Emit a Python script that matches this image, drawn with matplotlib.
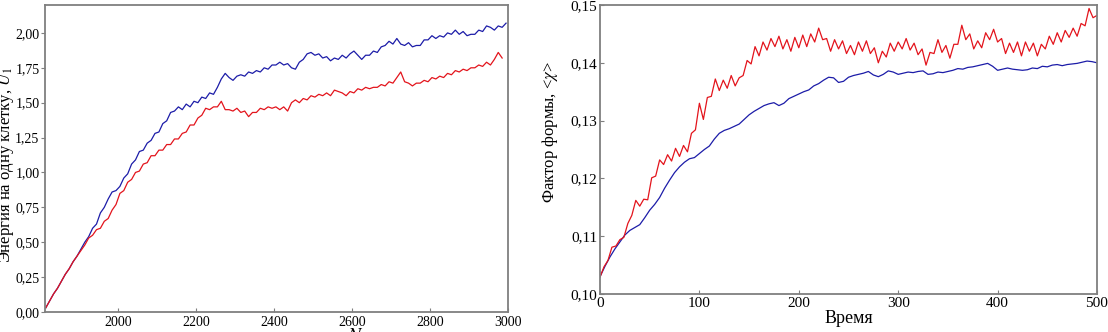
import matplotlib
matplotlib.use('Agg')
import matplotlib.pyplot as plt
from matplotlib.ticker import FuncFormatter, MultipleLocator

plt.rcParams['font.family'] = ['Liberation Serif', 'DejaVu Serif']
plt.rcParams['mathtext.fontset'] = 'stix'

# ---- left panel: energy per cell vs N ----
n_blue = list(range(1815, 3005, 10))
u_blue = [0.03, 0.08, 0.13, 0.17, 0.22, 0.27, 0.31, 0.36, 0.40, 0.45,
          0.50, 0.54, 0.60, 0.63, 0.71, 0.75, 0.81, 0.86, 0.87, 0.90,
          0.96, 0.99, 1.06, 1.09, 1.15, 1.16, 1.21, 1.23, 1.28, 1.29,
          1.35, 1.37, 1.43, 1.44, 1.47, 1.45, 1.49, 1.47, 1.51, 1.50,
          1.54, 1.53, 1.57, 1.56, 1.61, 1.67, 1.71, 1.68, 1.66, 1.69,
          1.70, 1.69, 1.72, 1.71, 1.73, 1.72, 1.75, 1.74, 1.77, 1.77,
          1.79, 1.77, 1.78, 1.75, 1.74, 1.79, 1.81, 1.85, 1.86, 1.84,
          1.85, 1.82, 1.83, 1.80, 1.82, 1.81, 1.84, 1.82, 1.85, 1.87,
          1.84, 1.81, 1.84, 1.84, 1.87, 1.86, 1.90, 1.91, 1.94, 1.92,
          1.96, 1.92, 1.91, 1.93, 1.90, 1.91, 1.91, 1.95, 1.95, 1.98,
          1.96, 1.98, 1.97, 2.00, 1.99, 2.02, 1.99, 2.01, 1.98, 1.99,
          1.99, 2.02, 2.01, 2.05, 2.04, 2.02, 2.05, 2.04, 2.07]

n_red = list(range(1815, 2995, 10))
u_red = [0.03, 0.08, 0.13, 0.17, 0.22, 0.27, 0.31, 0.36, 0.40, 0.44,
         0.48, 0.53, 0.55, 0.59, 0.60, 0.65, 0.67, 0.73, 0.77, 0.85,
         0.87, 0.93, 0.95, 1.00, 1.01, 1.06, 1.07, 1.12, 1.12, 1.16,
         1.16, 1.20, 1.20, 1.24, 1.24, 1.28, 1.29, 1.34, 1.34, 1.39,
         1.41, 1.46, 1.45, 1.47, 1.47, 1.51, 1.45, 1.45, 1.44, 1.46,
         1.43, 1.44, 1.40, 1.43, 1.43, 1.46, 1.45, 1.47, 1.46, 1.47,
         1.45, 1.47, 1.44, 1.50, 1.52, 1.50, 1.53, 1.52, 1.55, 1.54,
         1.56, 1.55, 1.57, 1.55, 1.59, 1.58, 1.57, 1.55, 1.58, 1.57,
         1.60, 1.59, 1.61, 1.60, 1.61, 1.61, 1.63, 1.62, 1.65, 1.64,
         1.68, 1.72, 1.65, 1.64, 1.62, 1.64, 1.64, 1.66, 1.65, 1.68,
         1.67, 1.69, 1.68, 1.71, 1.70, 1.73, 1.72, 1.74, 1.73, 1.75,
         1.75, 1.77, 1.76, 1.79, 1.77, 1.81, 1.86, 1.82]

# ---- right panel: shape factor vs time ----
t_red = list(range(0, 504, 4))
chi_red = [.1029, .1047, .1058, .1081, .1083, .1094, .1098, .1122, .1136, .1162,
           .1152, .1164, .1163, .1201, .1204, .1232, .1224, .1241, .1230, .1252,
           .1238, .1257, .1246, .1278, .1284, .1330, .1302, .1340, .1342, .1372,
           .1352, .1370, .1356, .1378, .1360, .1374, .1378, .1404, .1398, .1428,
           .1412, .1436, .1422, .1442, .1428, .1446, .1424, .1440, .1420, .1444,
           .1426, .1448, .1428, .1450, .1436, .1460, .1440, .1442, .1420, .1440,
           .1424, .1438, .1416, .1430, .1414, .1436, .1420, .1438, .1416, .1426,
           .1400, .1420, .1410, .1434, .1420, .1436, .1424, .1442, .1422, .1434,
           .1414, .1424, .1396, .1418, .1416, .1440, .1418, .1430, .1408, .1432,
           .1432, .1465, .1440, .1450, .1424, .1438, .1426, .1452, .1440, .1458,
           .1436, .1442, .1416, .1434, .1418, .1436, .1412, .1436, .1420, .1434,
           .1412, .1432, .1424, .1446, .1432, .1452, .1436, .1456, .1444, .1460,
           .1446, .1468, .1464, .1494, .1478, .1482]

t_blue = list(range(0, 505, 5))
chi_blue = [.1030, .1048, .1064, .1078, .1090, .1102, .1110, .1115, .1120, .1132,
            .1145, .1155, .1167, .1183, .1197, .1210, .1220, .1228, .1234, .1236,
            .1243, .1250, .1256, .1268, .1278, .1283, .1286, .1290, .1294, .1302,
            .1310, .1316, .1321, .1326, .1329, .1331, .1326, .1330, .1338, .1342,
            .1346, .1350, .1353, .1360, .1364, .1370, .1375, .1374, .1366, .1368,
            .1375, .1378, .1380, .1382, .1385, .1379, .1376, .1380, .1386, .1384,
            .1380, .1382, .1384, .1383, .1385, .1386, .1380, .1381, .1384, .1383,
            .1385, .1387, .1390, .1389, .1392, .1393, .1395, .1397, .1399, .1394,
            .1387, .1389, .1391, .1389, .1388, .1387, .1388, .1391, .1390, .1394,
            .1393, .1396, .1397, .1395, .1397, .1398, .1399, .1401, .1403, .1402,
            .1400]

BLUE = '#1c1ca8'
RED = '#e3141c'
SPINE = '#7f7f7f'


def comma(dec):
    return FuncFormatter(lambda v, p: f'{v:.{dec}f}'.replace('.', ','))


fig = plt.figure(figsize=(11.08, 3.32), dpi=100)

# left axes
ax1 = fig.add_axes([45 / 1108, 1 - 312 / 332, 463 / 1108, 307 / 332])
ax1.plot(n_blue, u_blue, color=BLUE, lw=0.9)
ax1.plot(n_red, u_red, color=RED, lw=0.9)
ax1.set_xlim(1813, 3000)
ax1.set_ylim(0, 2.2)
ax1.yaxis.set_major_locator(MultipleLocator(0.25))
ax1.yaxis.set_major_formatter(comma(2))
ax1.set_xticks([2000, 2200, 2400, 2600, 2800, 3000])
ax1.tick_params(axis='x', direction='in', length=3, labelsize=10, pad=3, color=SPINE)
ax1.tick_params(axis='y', direction='out', length=3, labelsize=10, pad=1, color=SPINE)
ax1.set_ylabel('Энергия на одну клетку, $U_1$', fontsize=12)
ax1.yaxis.set_label_coords(-0.062, 0.48)
# axis title sits mostly below the bottom edge, as in the source
fig.text(355 / 1108, 1 - 328 / 332, '$N$', fontsize=14, ha='center', va='top')

# right axes
ax2 = fig.add_axes([600 / 1108, 1 - 294 / 332, 497 / 1108, 289 / 332])
ax2.plot(t_blue, chi_blue, color=BLUE, lw=0.9)
ax2.plot(t_red, chi_red, color=RED, lw=0.9)
ax2.set_xlim(0, 500)
ax2.set_ylim(0.10, 0.15)
ax2.xaxis.set_major_locator(MultipleLocator(100))
ax2.yaxis.set_major_locator(MultipleLocator(0.01))
ax2.yaxis.set_major_formatter(comma(2))
ax2.tick_params(direction='in', length=3, labelsize=11, pad=2, color=SPINE)
ax2.set_xlabel('Время', fontsize=13, labelpad=0)
ax2.set_ylabel('Фактор формы, <$\\chi$>', fontsize=12)
ax2.yaxis.set_label_coords(-0.08, 0.56)

for ax in (ax1, ax2):
    for s in ax.spines.values():
        s.set_color(SPINE)
        s.set_linewidth(1.3)

fig.savefig('out.png', dpi=100)
